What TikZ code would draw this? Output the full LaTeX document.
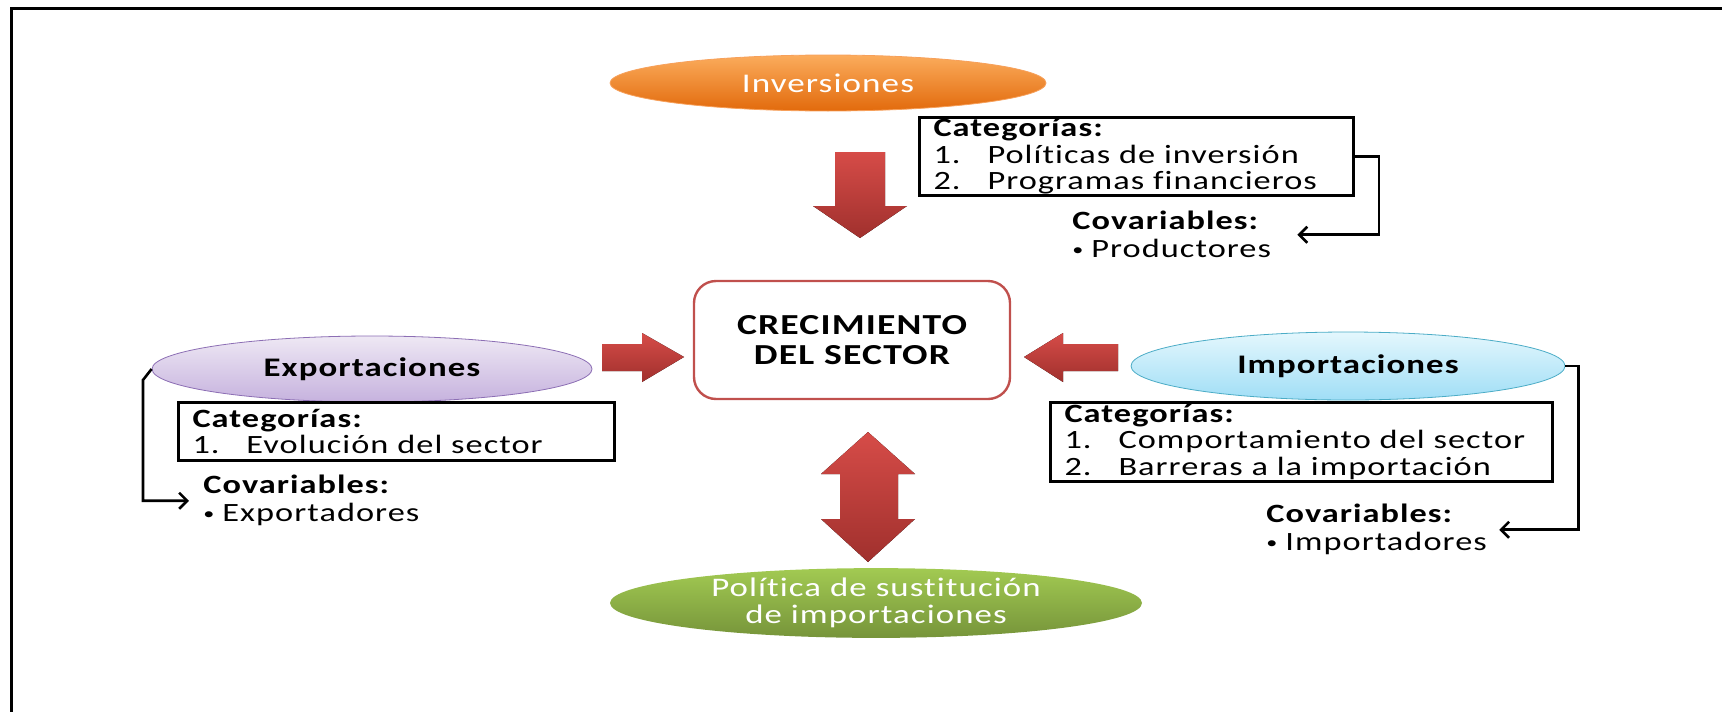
\documentclass[tikz,border=0pt]{standalone}
\usepackage{fontspec}
\setmainfont{Carlito}[FakeStretch=1.3,LetterSpace=4,Ligatures=NoCommon]
\usetikzlibrary{shapes.geometric,arrows.meta,positioning,calc}

\definecolor{arrtop}{RGB}{214,76,72}
\definecolor{arrbot}{RGB}{160,48,45}
\definecolor{invtop}{RGB}{251,172,92}
\definecolor{invbot}{RGB}{226,106,12}
\definecolor{invline}{RGB}{247,160,90}
\definecolor{exptop}{RGB}{238,232,244}
\definecolor{expbot}{RGB}{198,178,222}
\definecolor{expline}{RGB}{140,110,180}
\definecolor{imptop}{RGB}{228,247,253}
\definecolor{impbot}{RGB}{160,222,246}
\definecolor{impline}{RGB}{75,172,198}
\definecolor{poltop}{RGB}{162,202,82}
\definecolor{polbot}{RGB}{118,148,58}
\definecolor{crecline}{RGB}{192,80,77}

\newcommand{\bul}{{\fontsize{8.5}{8.5}\selectfont\raisebox{0.25ex}{\textbullet}}\hspace{4pt}}

\begin{document}
\begin{tikzpicture}[x=0.5pt,y=-0.5pt,
	oval/.style={ellipse,inner sep=0pt,align=center},
	catbox/.style={draw,line width=1.5pt,anchor=north west,align=left,inner xsep=7pt,inner ysep=0.5pt,font=\fontsize{13.2}{13.3}\selectfont},
	covtext/.style={anchor=north west,align=left,inner sep=0pt,font=\fontsize{13.2}{14}\selectfont},
	link/.style={line width=1.3pt,-{Straight Barb[length=4pt,width=8pt]}},
	redarrow/.style={top color=arrtop,bottom color=arrbot,draw=none}]
	\useasboundingbox (0,0) rectangle (1722,712);
	\draw[line width=1.5pt] (1722,8) -- (11,8) -- (11,712);
	% nodos principales
	\node[oval,minimum width=218pt,minimum height=28pt,top color=invtop,bottom color=invbot,draw=invline,text=white,font=\fontsize{13.5}{15}\selectfont] (inv) at (828,83) {Inversiones};
	\node[draw=crecline,line width=1.2pt,rounded corners=11pt,minimum width=158pt,minimum height=59pt,align=center,font=\bfseries\fontsize{14.5}{15}\selectfont] (crec) at (852,340) {CRECIMIENTO\\DEL SECTOR};
	\node[oval,minimum width=220pt,minimum height=33pt,top color=exptop,bottom color=expbot,draw=expline,line width=0.4pt,font=\bfseries\fontsize{13.4}{15}\selectfont] (exp) at (372,369) {Exportaciones};
	\node[oval,minimum width=217pt,minimum height=34pt,top color=imptop,bottom color=impbot,draw=impline,line width=0.4pt,font=\bfseries\fontsize{13.4}{15}\selectfont] (imp) at (1348,366) {Importaciones};
	\node[oval,minimum width=266pt,minimum height=30pt,top color=poltop,bottom color=polbot,text=white,font=\fontsize{13.4}{13.2}\selectfont] (pol) at (876,603) {\raisebox{-2pt}{Política de sustitución}\\\raisebox{-2pt}{de importaciones}};
	% categorias
	\node[catbox,text width=203pt,minimum height=39pt] (invcat) at (918,116) {\textbf{Categorías:}\\\makebox[27pt][l]{1.}Políticas de inversión\\\makebox[27pt][l]{2.}Programas financieros};
	\node[catbox,text width=204pt,minimum height=29pt] (expcat) at (177,401) {\textbf{Categorías:}\\\makebox[27pt][l]{1.}Evolución del sector};
	\node[catbox,text width=237pt,minimum height=39.5pt] (impcat) at (1049,401) {\textbf{Categorías:}\\\makebox[27pt][l]{1.}Comportamiento del sector\\\makebox[27pt][l]{2.}Barreras a la importación};
	% covariables
	\node[covtext] (invcov) at (1072,211) {\textbf{Covariables:}\\\bul Productores};
	\node[covtext] (expcov) at (203,475) {\textbf{Covariables:}\\\bul Exportadores};
	\node[covtext] (impcov) at (1266,504) {\textbf{Covariables:}\\\bul Importadores};
	% flechas gruesas
	\fill[redarrow] (835,152) -- (885,152) -- (885,206) -- (907,206) -- (860,238) -- (813,206) -- (835,206) -- cycle;
	\fill[redarrow] (602,344) -- (642,344) -- (642,333) -- (684,357) -- (642,382) -- (642,371) -- (602,371) -- cycle;
	\fill[redarrow] (1118,344) -- (1063,344) -- (1063,333) -- (1024,357) -- (1063,382) -- (1063,371) -- (1118,371) -- cycle;
	\fill[redarrow] (868,432) -- (915,474) -- (898,474) -- (898,519) -- (915,519) -- (868,562) -- (821,519) -- (840,519) -- (840,474) -- (821,474) -- cycle;
	% conectores
	\draw[link] (invcat.east) -- ++(24,0) |- ([xshift=13pt]invcov.east);
	\draw[link] (exp.west) -- (143,380) |- ([xshift=-7pt]expcov.west);
	\draw[link] (imp.east) -- ++(13,0) |- ([xshift=6pt]impcov.east);
\end{tikzpicture}
\end{document}
